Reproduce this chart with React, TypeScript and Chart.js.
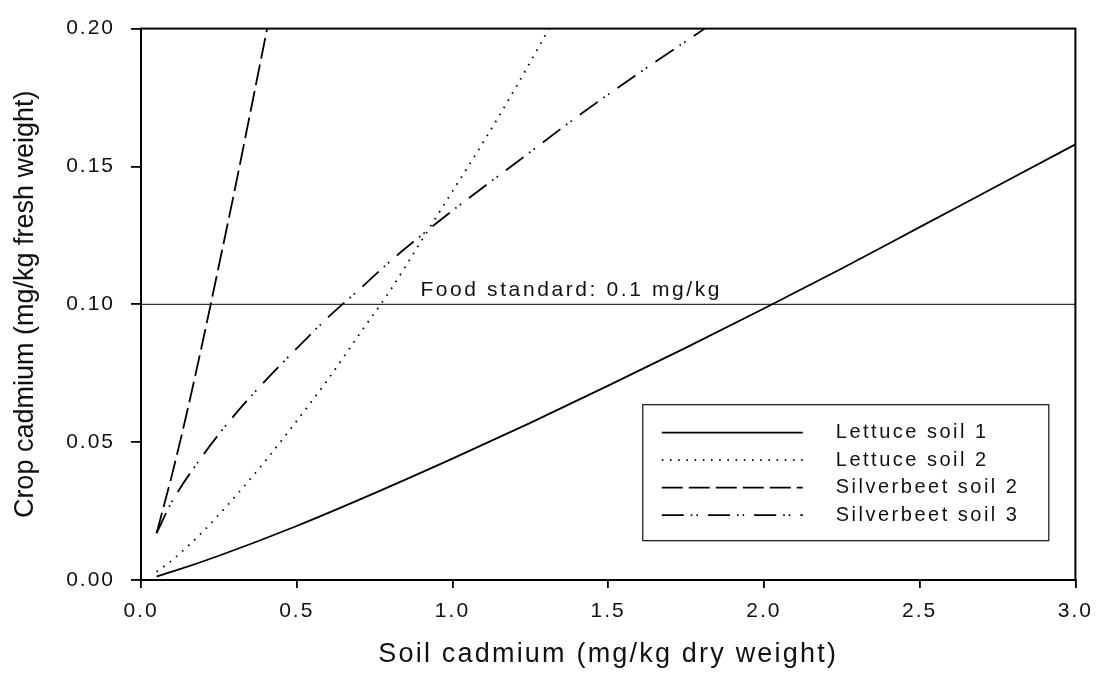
import React, { useEffect, useRef } from "react";
import { Chart, registerables } from "chart.js";

Chart.register(...registerables);

const LETTUCE1_X = [0.05, 0.1, 0.25, 0.5, 0.75, 1.0, 1.25, 1.5, 1.75, 2.0, 2.25, 2.5, 2.75, 3.0];
const LETTUCE1_Y = [0.0013, 0.003, 0.0088, 0.0196, 0.0315, 0.044, 0.057, 0.0705, 0.0843, 0.0985, 0.113, 0.128, 0.143, 0.158];

const LETTUCE2_X = [0.05, 0.1, 0.2, 0.3, 0.4, 0.5, 0.6, 0.7, 0.8, 0.9, 1.0, 1.1, 1.2, 1.31];
const LETTUCE2_Y = [0.003, 0.0072, 0.0177, 0.03, 0.0433, 0.0577, 0.0727, 0.089, 0.105, 0.123, 0.141, 0.159, 0.178, 0.2];

const SILVER2_X = [0.05, 0.1, 0.15, 0.2, 0.25, 0.3, 0.35, 0.405];
const SILVER2_Y = [0.017, 0.0384, 0.062, 0.0874, 0.114, 0.141, 0.169, 0.2];

const SILVER3_X = [0.05, 0.1, 0.2, 0.3, 0.4, 0.5, 0.6, 0.7, 0.8, 0.9, 1.0, 1.2, 1.4, 1.6, 1.81];
const SILVER3_Y = [0.017, 0.0285, 0.0454, 0.0598, 0.0724, 0.084, 0.0952, 0.1053, 0.1156, 0.125, 0.134, 0.151, 0.168, 0.184, 0.2];

const SERIES_NAMES = ["Lettuce soil 1", "Lettuce soil 2", "Silverbeet soil 2", "Silverbeet soil 3"];

const FOOD_STANDARD = 0.1;
const FOOD_LABEL = "Food standard: 0.1 mg/kg";
const X_RANGE = [0, 3];
const Y_RANGE = [0, 0.2];
const X_TITLE = "Soil cadmium (mg/kg dry weight)";
const Y_TITLE = "Crop cadmium (mg/kg fresh weight)";

const FONT = "'Liberation Sans', Arial, sans-serif";

function pts(xs: number[], ys: number[]) {
  return xs.map((x, i) => ({ x, y: ys[i] }));
}

const decorPlugin = {
  id: "decor",
  beforeDraw(chart: any) {
    chart.ctx.letterSpacing = "2px";
  },
  afterDraw(chart: any) {
    const ctx = chart.ctx as CanvasRenderingContext2D;
    const { left, right, top, bottom } = chart.chartArea;
    const xs = chart.scales.x;
    const ys = chart.scales.y;
    ctx.save();
    // frame
    ctx.strokeStyle = "#000";
    ctx.lineWidth = 2;
    ctx.setLineDash([]);
    ctx.strokeRect(left, top, right - left, bottom - top);

    // food standard label
    ctx.fillStyle = "#111";
    (ctx as any).letterSpacing = "2.6px";
    ctx.font = `21px ${FONT}`;
    ctx.textAlign = "left";
    ctx.textBaseline = "alphabetic";
    ctx.fillText(FOOD_LABEL, xs.getPixelForValue(0.897), ys.getPixelForValue(FOOD_STANDARD) - 8);

    // legend box
    const bx = xs.getPixelForValue(1.611);
    const by = ys.getPixelForValue(0.0636);
    const bw = 406;
    const bh = 136;
    ctx.lineWidth = 1.3;
    ctx.strokeStyle = "#222";
    ctx.strokeRect(bx, by, bw, bh);
    (ctx as any).letterSpacing = "2.5px";
    ctx.font = `20px ${FONT}`;
    for (let i = 0; i < 4; i++) {
      const ds = chart.data.datasets[i];
      const yy = by + 28 + i * 27.5;
      ctx.beginPath();
      ctx.setLineDash(ds.borderDash || []);
      ctx.lineWidth = 1.8;
      ctx.strokeStyle = "#000";
      ctx.moveTo(bx + 19, yy);
      ctx.lineTo(bx + 160, yy);
      ctx.stroke();
      ctx.setLineDash([]);
      ctx.fillStyle = "#111";
      ctx.textBaseline = "middle";
      ctx.fillText(ds.label, bx + 193, yy);
    }

    // x title
    (ctx as any).letterSpacing = "2.2px";
    ctx.font = `27px ${FONT}`;
    ctx.textAlign = "center";
    ctx.textBaseline = "middle";
    ctx.fillText(X_TITLE, (left + right) / 2, 655);

    // y title
    (ctx as any).letterSpacing = "0px";
    ctx.translate(26, (top + bottom) / 2);
    ctx.rotate(-Math.PI / 2);
    ctx.font = `27px ${FONT}`;
    ctx.fillText(Y_TITLE, 0, 0);
    ctx.restore();
    (ctx as any).letterSpacing = "0px";
  },
};

export default function App() {
  const ref = useRef<HTMLCanvasElement | null>(null);
  useEffect(() => {
    if (!ref.current) return;
    const lineBase = {
      pointRadius: 0,
      borderColor: "#000",
      borderWidth: 1.8,
      fill: false,
      cubicInterpolationMode: "monotone" as const,
      borderCapStyle: "butt" as const,
    };
    const chart = new Chart(ref.current, {
      type: "line",
      data: {
        datasets: [
          { ...lineBase, label: SERIES_NAMES[0], data: pts(LETTUCE1_X, LETTUCE1_Y), borderDash: [] },
          { ...lineBase, label: SERIES_NAMES[1], data: pts(LETTUCE2_X, LETTUCE2_Y), borderDash: [1.6, 6.6] },
          { ...lineBase, label: SERIES_NAMES[2], data: pts(SILVER2_X, SILVER2_Y), borderDash: [21, 6] },
          { ...lineBase, label: SERIES_NAMES[3], data: pts(SILVER3_X, SILVER3_Y), borderDash: [22, 7, 1.6, 4, 1.6, 10] },
          {
            ...lineBase,
            label: "food",
            data: [
              { x: X_RANGE[0], y: FOOD_STANDARD },
              { x: X_RANGE[1], y: FOOD_STANDARD },
            ],
            borderWidth: 1.2,
            borderColor: "#333",
          },
        ],
      },
      options: {
        animation: false,
        responsive: false,
        events: [],
        layout: { padding: { left: 0, right: 18, top: 19, bottom: 0 } },
        plugins: { legend: { display: false }, tooltip: { enabled: false }, title: { display: false } },
        scales: {
          x: {
            type: "linear",
            min: X_RANGE[0],
            max: X_RANGE[1],
            afterFit: (s: any) => {
              s.height = 93;
            },
            border: { display: true, color: "#000", width: 2 },
            grid: { drawOnChartArea: false, drawTicks: true, tickLength: 8, color: "#000", lineWidth: 1.8 },
            ticks: {
              stepSize: 0.5,
              color: "#111",
              font: { family: FONT, size: 21 },
              padding: 11,
              maxRotation: 0,
              callback: (v: any) => Number(v).toFixed(1),
            },
          },
          y: {
            type: "linear",
            min: Y_RANGE[0],
            max: Y_RANGE[1],
            afterFit: (s: any) => {
              s.width = 141;
            },
            border: { display: true, color: "#000", width: 2 },
            grid: { drawOnChartArea: false, drawTicks: true, tickLength: 10, color: "#000", lineWidth: 1.8 },
            ticks: {
              stepSize: 0.05,
              color: "#111",
              font: { family: FONT, size: 21 },
              padding: 16,
              callback: (v: any) => Number(v).toFixed(2),
            },
          },
        },
      },
      plugins: [decorPlugin],
    } as any);
    return () => chart.destroy();
  }, []);
  return (
    <div style={{ position: "absolute", left: 0, top: 0, width: 1101, height: 673, background: "#fff" }}>
      <canvas ref={ref} width={1101} height={673} style={{ display: "block" }} />
    </div>
  );
}
